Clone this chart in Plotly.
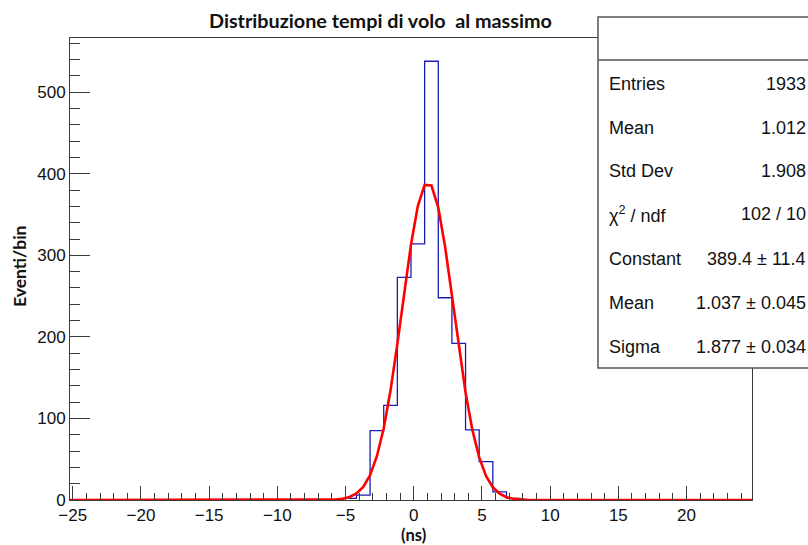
import numpy as np
import plotly.graph_objects as go

# Histogram definition: 50 bins of 1 ns starting at -25.2 ns
X_MIN = -25.2
BIN_WIDTH = 1.0
N_BINS = 50

# Non-empty bins, keyed by the lower edge of the bin (ns)
filled_edges = [-5.2, -4.2, -3.2, -2.2, -1.2, -0.2, 0.8, 1.8, 2.8, 3.8, 4.8, 5.8, 6.8]
filled_counts = [2, 6, 85, 116, 273, 314, 538, 248, 192, 86, 47, 10, 2]

# Gaussian fit results
fit_constant = 389.4
fit_mean = 1.037
fit_sigma = 1.877

# Statistics box content
stat_labels = ["Entries", "Mean", "Std Dev", "χ<sup>2</sup> / ndf", "Constant", "Mean", "Sigma"]
stat_values = ["1933", "1.012", "1.908", "102 / 10", "389.4 ± 11.4", "1.037 ± 0.045", "1.877 ± 0.034"]

# ---- build the step histogram ----
edges = X_MIN + BIN_WIDTH * np.arange(N_BINS + 1)
counts = np.zeros(N_BINS)
for e, c in zip(filled_edges, filled_counts):
    counts[int(round((e - X_MIN) / BIN_WIDTH))] = c
step_y = np.append(counts, counts[-1])
step_x = np.concatenate([[edges[0]], edges, [edges[-1]]])
step_y = np.concatenate([[0], step_y, [0]])

# ---- fitted function sampled over the full axis range ----
fx = np.linspace(edges[0], edges[-1], 101)
fy = fit_constant * np.exp(-0.5 * ((fx - fit_mean) / fit_sigma) ** 2)

W, H = 808, 545
ML, MR, MT, MB = 70, 56, 38, 45
PW, PH = W - ML - MR, H - MT - MB


def px(x):
    return (x - ML) / PW


def py(y):
    return (H - MB - y) / PH


fig = go.Figure()
fig.add_trace(go.Scatter(x=step_x, y=step_y, mode="lines", line=dict(color="#1c1cb4", width=1.3, shape="hv"),
                         hoverinfo="skip", showlegend=False))
fig.add_trace(go.Scatter(x=fx, y=fy, mode="lines", line=dict(color="#ff0000", width=2.6),
                         showlegend=False))

axis_line = "#3a3a3a"
tick_font = dict(family="Liberation Sans, Arial, sans-serif", size=17, color="#111")

fig.update_xaxes(range=[edges[0], edges[-1]], tick0=0, dtick=5, ticks="inside", ticklen=14,
                 tickcolor=axis_line, tickwidth=1, showline=True, linecolor=axis_line, linewidth=1,
                 mirror=True, showgrid=False, zeroline=False, tickfont=tick_font,
                 minor=dict(dtick=1, ticks="inside", ticklen=7, tickcolor=axis_line, tickwidth=1,
                            showgrid=False))
fig.update_yaxes(range=[0, 566.5], tick0=0, dtick=100, ticks="inside", ticklen=20,
                 tickcolor=axis_line, tickwidth=1, showline=True, linecolor=axis_line, linewidth=1,
                 mirror=True, showgrid=False, zeroline=False, tickfont=tick_font,
                 minor=dict(dtick=20, ticks="inside", ticklen=10, tickcolor=axis_line, tickwidth=1,
                            showgrid=False))

# ---- statistics box ----
BOX_L, BOX_T, BOX_B, BOX_R = 598, 17, 368, 815
shapes = [
    dict(type="rect", xref="paper", yref="paper", x0=px(BOX_L), x1=px(BOX_R), y0=py(BOX_B), y1=py(BOX_T),
         fillcolor="white", line=dict(color="#555", width=1.5), layer="above"),
    dict(type="line", xref="paper", yref="paper", x0=px(BOX_L), x1=px(BOX_R), y0=py(60), y1=py(60),
         line=dict(color="#555", width=1.5), layer="above"),
]

stat_font = dict(family="Liberation Sans, Arial, sans-serif", size=18, color="#111")
annotations = []
row_y = [84, 128, 171, 214, 259, 303, 347]
for lab, val, ry in zip(stat_labels, stat_values, row_y):
    annotations.append(dict(xref="paper", yref="paper", x=px(607), y=py(ry), text=lab, showarrow=False,
                            xanchor="left", yanchor="middle", font=stat_font))
    annotations.append(dict(xref="paper", yref="paper", x=px(808), y=py(ry), text=val, showarrow=False,
                            xanchor="right", yanchor="middle", font=stat_font))

# ---- titles ----
title_font = dict(family="Lato, Open Sans, sans-serif", size=19.8, color="#111")
annotations.append(dict(xref="paper", yref="paper", x=px(380), y=py(20),
                        text="<b>Distribuzione tempi di volo  al massimo</b>", showarrow=False,
                        xanchor="center", yanchor="middle", font=title_font))
annotations.append(dict(xref="paper", yref="paper", x=px(19), y=py(267), text="<b>Eventi/bin</b>",
                        showarrow=False, textangle=-90, xanchor="center", yanchor="middle",
                        font=dict(family="Lato, Open Sans, sans-serif", size=17.5, color="#111")))
annotations.append(dict(xref="paper", yref="paper", x=px(413), y=py(535), text="<b>(ns)</b>",
                        showarrow=False, xanchor="center", yanchor="middle",
                        font=dict(family="Lato, Open Sans, sans-serif", size=16.5, color="#111")))

fig.update_layout(width=W, height=H, margin=dict(l=ML, r=MR, t=MT, b=MB, autoexpand=False),
                  paper_bgcolor="white", plot_bgcolor="white", shapes=shapes, annotations=annotations)

fig.write_html("out.html")
